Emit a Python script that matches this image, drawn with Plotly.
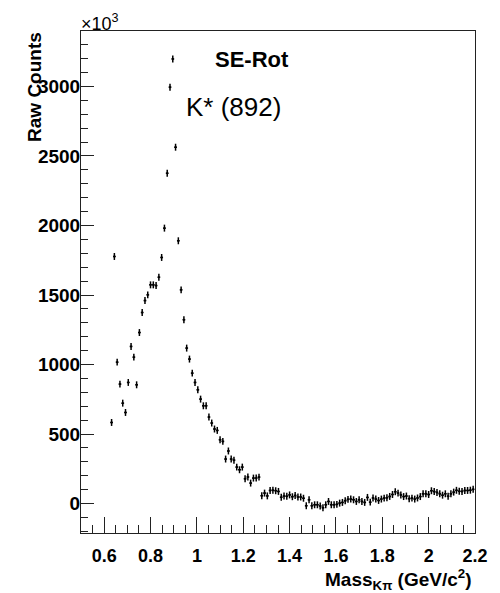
import numpy as np
import plotly.graph_objects as go

# Histogram bin centres (GeV/c^2), bin width 0.012
bin_width = 0.012
mass = np.round(0.632 + bin_width * np.arange(131), 4)

# Raw counts (x10^3)
counts = [
    583, 1777, 1017, 859, 722, 655, 871, 1130, 1053, 854,
    1230, 1374, 1460, 1501, 1573, 1573, 1568, 1628, 1770, 1981,
    2376, 2995, 3198, 2563, 1890, 1537, 1322, 1118, 1039, 938,
    871, 818, 751, 703, 703, 622, 579, 536, 526, 459,
    447, 320, 378, 320, 312, 262, 243, 262, 178, 191,
    147, 183, 183, 190, 56, 75, 55, 94, 96, 92,
    87, 45, 54, 52, 62, 49, 58, 47, 47, 38,
    -16, 27, -16, -9, -9, -18, -30, -9, 15, -9,
    -9, -6, 3, 8, 20, 30, 32, 27, 15, 27,
    15, 8, 44, 10, 40, 32, 22, 32, 39, 42,
    51, 65, 85, 75, 62, 50, 54, 35, 39, 32,
    40, 50, 70, 70, 65, 92, 86, 80, 70, 60,
    70, 53, 70, 82, 95, 88, 87, 94, 94, 96,
    102,
]
count_err = 25

x_ticks = [0.6, 0.8, 1.0, 1.2, 1.4, 1.6, 1.8, 2.0, 2.2]
x_ticklabels = ["0.6", "0.8", "1", "1.2", "1.4", "1.6", "1.8", "2", "2.2"]
y_ticks = [0, 500, 1000, 1500, 2000, 2500, 3000]
y_ticklabels = ["0", "500", "1000", "1500", "2000", "2500", "3000"]

FONT = "Liberation Sans"

fig = go.Figure()
fig.add_trace(go.Scatter(
    x=mass, y=counts, mode="markers",
    marker=dict(size=2, color="black"),
    error_y=dict(type="constant", value=count_err, color="black", thickness=1.5, width=0),
    error_x=dict(type="constant", value=bin_width / 2, color="black", thickness=1.5, width=0),
    showlegend=False,
))

# page offset from the browser's default body margin
OFF = 8
L, R, T, B = 81 - OFF, 17, 31 - OFF, 60
W, H = 500 - OFF, 593 - OFF
pw, ph = W - L - R, H - T - B

def px(x):
    return (x - OFF - L) / pw

def py(y):
    return (H - B - (y - OFF)) / ph

fig.update_layout(
    width=W, height=H,
    margin=dict(l=L, r=R, t=T, b=B, pad=0),
    paper_bgcolor="white", plot_bgcolor="white",
    font=dict(family=FONT, color="black"),
    xaxis=dict(
        range=[0.5, 2.2], showgrid=False, zeroline=False,
        showline=True, linecolor="#222", linewidth=1, mirror=True,
        tickmode="array", tickvals=x_ticks, ticktext=x_ticklabels,
        ticks="inside", ticklen=16, tickwidth=1, tickcolor="#222",
        tickfont=dict(family=FONT, size=18, weight="bold", color="black"),
        ticklabelstandoff=6,
        minor=dict(ticks="inside", ticklen=8, tickwidth=1, tickcolor="#222",
                   tick0=0.5, dtick=0.05, showgrid=False),
    ),
    yaxis=dict(
        range=[-212, 3399], showgrid=False, zeroline=False,
        showline=True, linecolor="#222", linewidth=1, mirror=True,
        tickmode="array", tickvals=y_ticks, ticktext=y_ticklabels,
        ticks="inside", ticklen=13, tickwidth=1, tickcolor="#222",
        tickfont=dict(family=FONT, size=19, weight="bold", color="black"),
        ticklabelstandoff=-4,
        minor=dict(ticks="inside", ticklen=7, tickwidth=1, tickcolor="#222",
                   tick0=0, dtick=100, showgrid=False),
    ),
)

annotations = [
    dict(text="×10<sup>3</sup>", x=px(79), y=py(22), xanchor="left", yanchor="middle",
         font=dict(family=FONT, size=18, color="black")),
    dict(text="SE-Rot", x=px(255), y=py(60), xanchor="center", yanchor="middle",
         font=dict(family=FONT, size=22, weight="bold", color="black")),
    dict(text="K* (892)", x=px(237), y=py(107), xanchor="center", yanchor="middle",
         font=dict(family=FONT, size=26, color="black")),
    dict(text="Raw Counts", x=px(33), y=py(30), xanchor="center", yanchor="top",
         textangle=-90, font=dict(family=FONT, size=19, weight="bold", color="black")),
    dict(text="Mass<sub>Kπ</sub> (GeV/c<sup>2</sup>)", x=px(482), y=py(579),
         xanchor="right", yanchor="middle",
         font=dict(family=FONT, size=19, weight="bold", color="black")),
]
for a in annotations:
    a.update(xref="paper", yref="paper", showarrow=False)
fig.update_layout(annotations=annotations)

fig.write_html("out.html")
